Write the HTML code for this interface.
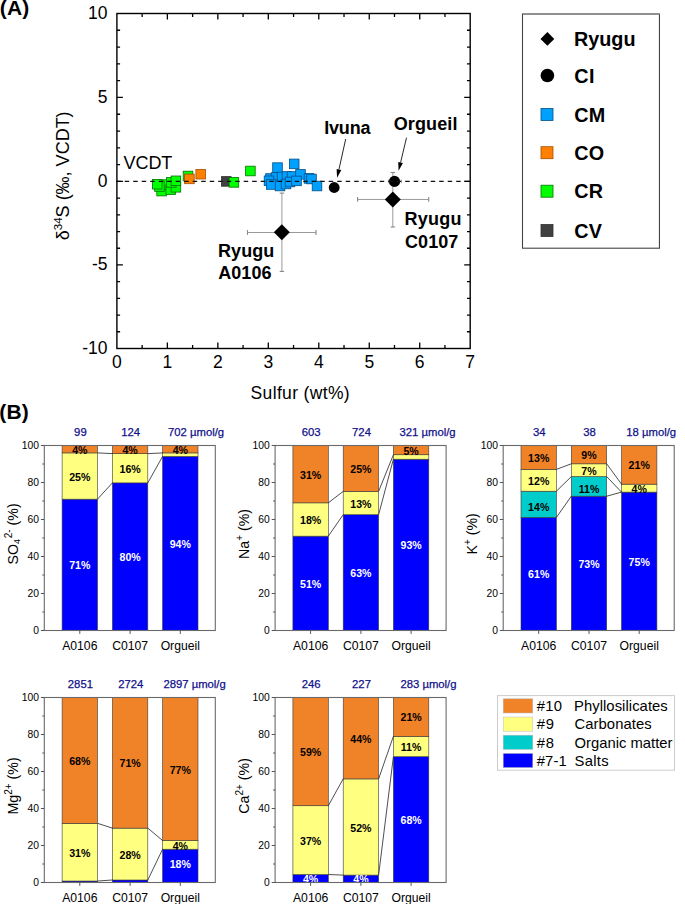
<!DOCTYPE html>
<html><head><meta charset="utf-8"><title>Figure</title>
<style>
html,body{margin:0;padding:0;background:#fff;}
body{width:685px;height:904px;overflow:hidden;}
svg{display:block;font-family:"Liberation Sans", sans-serif;}
</style></head>
<body>
<svg width="685" height="904" viewBox="0 0 685 904">
<rect width="685" height="904" fill="#fff"/>
<text x="-0.15" y="15.4" font-size="21" font-weight="bold" letter-spacing="0.12">(A)</text>
<g stroke="#9a9a9a" stroke-width="1" fill="none">
<line x1="247.5" y1="232.5" x2="316" y2="232.5"/>
<line x1="281.9" y1="193.1" x2="281.9" y2="271.4"/>
</g><g stroke="#888" stroke-width="1.1" fill="none">
<line x1="247.5" y1="230.1" x2="247.5" y2="234.9"/>
<line x1="316" y1="230.1" x2="316" y2="234.9"/>
<line x1="279.7" y1="193.1" x2="284.1" y2="193.1"/>
<line x1="279.7" y1="271.4" x2="284.1" y2="271.4"/>
</g>
<g stroke="#9a9a9a" stroke-width="1" fill="none">
<line x1="357.6" y1="199.45" x2="428.7" y2="199.45"/>
<line x1="392.8" y1="172.5" x2="392.8" y2="227"/>
</g><g stroke="#888" stroke-width="1.1" fill="none">
<line x1="357.6" y1="197.05" x2="357.6" y2="201.85"/>
<line x1="428.7" y1="197.05" x2="428.7" y2="201.85"/>
<line x1="390.6" y1="172.5" x2="395" y2="172.5"/>
<line x1="390.6" y1="227" x2="395" y2="227"/>
</g>
<rect x="221.5" y="176.6" width="9.6" height="9.6" fill="#404040" stroke="#303030" stroke-width="0.8"/>
<rect x="183.2" y="171.2" width="9.6" height="9.6" fill="#00ff00" stroke="#067006" stroke-width="0.8"/>
<rect x="156.8" y="186.3" width="9.6" height="9.6" fill="#00ff00" stroke="#067006" stroke-width="0.8"/>
<rect x="158.2" y="179.8" width="9.6" height="9.6" fill="#00ff00" stroke="#067006" stroke-width="0.8"/>
<rect x="154.6" y="181.7" width="9.6" height="9.6" fill="#00ff00" stroke="#067006" stroke-width="0.8"/>
<rect x="152.4" y="179.4" width="9.6" height="9.6" fill="#00ff00" stroke="#067006" stroke-width="0.8"/>
<rect x="165.9" y="184.9" width="9.6" height="9.6" fill="#00ff00" stroke="#067006" stroke-width="0.8"/>
<rect x="171.1" y="182.5" width="9.6" height="9.6" fill="#00ff00" stroke="#067006" stroke-width="0.8"/>
<rect x="166.5" y="177.6" width="9.6" height="9.6" fill="#00ff00" stroke="#067006" stroke-width="0.8"/>
<rect x="171.1" y="176" width="9.6" height="9.6" fill="#00ff00" stroke="#067006" stroke-width="0.8"/>
<rect x="229.1" y="177.6" width="9.6" height="9.6" fill="#00ff00" stroke="#067006" stroke-width="0.8"/>
<rect x="245.6" y="166.2" width="9.6" height="9.6" fill="#00ff00" stroke="#067006" stroke-width="0.8"/>
<rect x="184.6" y="174.1" width="9.6" height="9.6" fill="#ff8000" stroke="#a05000" stroke-width="0.8"/>
<rect x="195.9" y="169.4" width="9.6" height="9.6" fill="#ff8000" stroke="#a05000" stroke-width="0.8"/>
<rect x="272.7" y="162.8" width="9.6" height="9.6" fill="#00a0ff" stroke="#004f88" stroke-width="0.8"/>
<rect x="289.4" y="159.1" width="9.6" height="9.6" fill="#00a0ff" stroke="#004f88" stroke-width="0.8"/>
<rect x="265.7" y="173.7" width="9.6" height="9.6" fill="#00a0ff" stroke="#004f88" stroke-width="0.8"/>
<rect x="271.2" y="172.7" width="9.6" height="9.6" fill="#00a0ff" stroke="#004f88" stroke-width="0.8"/>
<rect x="277.2" y="172.2" width="9.6" height="9.6" fill="#00a0ff" stroke="#004f88" stroke-width="0.8"/>
<rect x="282.2" y="171.7" width="9.6" height="9.6" fill="#00a0ff" stroke="#004f88" stroke-width="0.8"/>
<rect x="287.2" y="171.7" width="9.6" height="9.6" fill="#00a0ff" stroke="#004f88" stroke-width="0.8"/>
<rect x="295.7" y="169.6" width="9.6" height="9.6" fill="#00a0ff" stroke="#004f88" stroke-width="0.8"/>
<rect x="304.2" y="173.6" width="9.6" height="9.6" fill="#00a0ff" stroke="#004f88" stroke-width="0.8"/>
<rect x="306.7" y="174.2" width="9.6" height="9.6" fill="#00a0ff" stroke="#004f88" stroke-width="0.8"/>
<rect x="264.2" y="176" width="9.6" height="9.6" fill="#00a0ff" stroke="#004f88" stroke-width="0.8"/>
<rect x="266.4" y="179.7" width="9.6" height="9.6" fill="#00a0ff" stroke="#004f88" stroke-width="0.8"/>
<rect x="275.2" y="181.2" width="9.6" height="9.6" fill="#00a0ff" stroke="#004f88" stroke-width="0.8"/>
<rect x="281.2" y="179.2" width="9.6" height="9.6" fill="#00a0ff" stroke="#004f88" stroke-width="0.8"/>
<rect x="285.2" y="177.2" width="9.6" height="9.6" fill="#00a0ff" stroke="#004f88" stroke-width="0.8"/>
<rect x="291.7" y="176.1" width="9.6" height="9.6" fill="#00a0ff" stroke="#004f88" stroke-width="0.8"/>
<rect x="312.2" y="181.2" width="9.6" height="9.6" fill="#00a0ff" stroke="#004f88" stroke-width="0.8"/>
<path d="M388.4 181.4H401.3M388.4 179.6V183.2M401.3 179.6V183.2" stroke="#9a9a9a" stroke-width="1" fill="none"/>
<circle cx="334.2" cy="187.5" r="5.4" fill="#000"/>
<circle cx="394.5" cy="181.4" r="5.6" fill="#000"/>
<path d="M281.8 224.3L289.8 232.3L281.8 240.3L273.8 232.3Z" fill="#000"/>
<path d="M392.8 191.5L400.8 199.5L392.8 207.5L384.8 199.5Z" fill="#000"/>
<line x1="116.2" y1="181.45" x2="470.2" y2="181.45" stroke="#111" stroke-width="1.2" stroke-dasharray="4.5 4.0"/>
<line x1="345.7" y1="139" x2="338.96" y2="169.4" stroke="#111" stroke-width="0.9"/>
<path d="M337.1 177.8L336.62 168.88L341.3 169.92Z" fill="#000"/>
<line x1="406.5" y1="137.7" x2="400.6" y2="162.43" stroke="#111" stroke-width="0.9"/>
<path d="M398.6 170.8L398.26 161.88L402.93 162.99Z" fill="#000"/>
<rect x="116.9" y="13.5" width="353.3" height="335" fill="none" stroke="#000" stroke-width="1.4"/>
<path d="M142.14 348.5v-3.4M142.14 13.5v3.4M167.37 348.5v-6M167.37 13.5v6M192.61 348.5v-3.4M192.61 13.5v3.4M217.84 348.5v-6M217.84 13.5v6M243.08 348.5v-3.4M243.08 13.5v3.4M268.31 348.5v-6M268.31 13.5v6M293.55 348.5v-3.4M293.55 13.5v3.4M318.79 348.5v-6M318.79 13.5v6M344.02 348.5v-3.4M344.02 13.5v3.4M369.26 348.5v-6M369.26 13.5v6M394.49 348.5v-3.4M394.49 13.5v3.4M419.73 348.5v-6M419.73 13.5v6M444.96 348.5v-3.4M444.96 13.5v3.4M116.9 331.75h3.2M470.2 331.75h-3.2M116.9 315.05h3.2M470.2 315.05h-3.2M116.9 298.35h3.2M470.2 298.35h-3.2M116.9 281.65h3.2M470.2 281.65h-3.2M116.9 264.95h6M470.2 264.95h-6M116.9 248.25h3.2M470.2 248.25h-3.2M116.9 231.55h3.2M470.2 231.55h-3.2M116.9 214.85h3.2M470.2 214.85h-3.2M116.9 198.15h3.2M470.2 198.15h-3.2M116.9 181.45h6M470.2 181.45h-6M116.9 164.65h3.2M470.2 164.65h-3.2M116.9 147.85h3.2M470.2 147.85h-3.2M116.9 131.05h3.2M470.2 131.05h-3.2M116.9 114.25h3.2M470.2 114.25h-3.2M116.9 97.45h6M470.2 97.45h-6M116.9 80.65h3.2M470.2 80.65h-3.2M116.9 63.85h3.2M470.2 63.85h-3.2M116.9 47.05h3.2M470.2 47.05h-3.2M116.9 30.25h3.2M470.2 30.25h-3.2" stroke="#000" stroke-width="1.3" fill="none"/>
<text x="107.5" y="18.85" font-size="17.5" text-anchor="end">10</text>
<text x="107.5" y="102.85" font-size="17.5" text-anchor="end">5</text>
<text x="107.5" y="186.85" font-size="17.5" text-anchor="end">0</text>
<text x="107.5" y="270.35" font-size="17.5" text-anchor="end">-5</text>
<text x="107.5" y="353.85" font-size="17.5" text-anchor="end">-10</text>
<text x="116.9" y="367.8" font-size="17.5" text-anchor="middle">0</text>
<text x="167.37" y="367.8" font-size="17.5" text-anchor="middle">1</text>
<text x="217.84" y="367.8" font-size="17.5" text-anchor="middle">2</text>
<text x="268.31" y="367.8" font-size="17.5" text-anchor="middle">3</text>
<text x="318.79" y="367.8" font-size="17.5" text-anchor="middle">4</text>
<text x="369.26" y="367.8" font-size="17.5" text-anchor="middle">5</text>
<text x="419.73" y="367.8" font-size="17.5" text-anchor="middle">6</text>
<text x="470.2" y="367.8" font-size="17.5" text-anchor="middle">7</text>
<text x="250.61" y="398.8" font-size="17.5" letter-spacing="0.34">Sulfur (wt%)</text>
<text transform="translate(69 175.8) rotate(-90)" font-size="18" text-anchor="middle">&#948;<tspan font-size="11.5" dy="-7">34</tspan><tspan dy="7">S (&#8240;, VCDT)</tspan></text>
<text x="123.62" y="168.9" font-size="18" letter-spacing="-0.1">VCDT</text>
<text x="324.2" y="133.6" font-size="18" font-weight="bold" letter-spacing="-0.18">Ivuna</text>
<text x="393.66" y="129.6" font-size="18" font-weight="bold" letter-spacing="0.13">Orgueil</text>
<text x="218.1" y="257.2" font-size="18" font-weight="bold" letter-spacing="0.02">Ryugu</text>
<text x="218.25" y="279" font-size="18" font-weight="bold" letter-spacing="0.04">A0106</text>
<text x="404.6" y="225.4" font-size="18" font-weight="bold" letter-spacing="0.2">Ryugu</text>
<text x="405.06" y="247.6" font-size="18" font-weight="bold" letter-spacing="0.07">C0107</text>
<rect x="522.5" y="14" width="136.95" height="234.2" fill="none" stroke="#444" stroke-width="1.1"/>
<line x1="523" y1="14" x2="659.4" y2="14" stroke="#909090" stroke-width="1.8"/>
<path d="M547.4 32L554.3 38.9L547.4 45.8L540.5 38.9Z" fill="#000"/>
<circle cx="547.4" cy="75.5" r="6.8" fill="#000"/>
<rect x="541" y="108.5" width="12" height="12" fill="#00a0ff" stroke="#004f88" stroke-width="0.8"/>
<rect x="541" y="146.7" width="12" height="12" fill="#ff8000" stroke="#a05000" stroke-width="0.8"/>
<rect x="541" y="185.2" width="12" height="12" fill="#00ff00" stroke="#067006" stroke-width="0.8"/>
<rect x="541" y="224.5" width="12" height="12" fill="#404040" stroke="#303030" stroke-width="0.8"/>
<text x="573.88" y="46.1" font-size="19.8" font-weight="bold" letter-spacing="0.03">Ryugu</text>
<text x="574.19" y="82.7" font-size="19.8" font-weight="bold" letter-spacing="0.44">CI</text>
<text x="574.19" y="121.7" font-size="19.8" font-weight="bold" letter-spacing="0.34">CM</text>
<text x="574.2" y="159.9" font-size="19.8" font-weight="bold" letter-spacing="0.3">CO</text>
<text x="574.2" y="198.4" font-size="19.8" font-weight="bold" letter-spacing="0.3">CR</text>
<text x="574.2" y="237.7" font-size="19.8" font-weight="bold" letter-spacing="0.3">CV</text>
<text x="-0.75" y="419" font-size="21" font-weight="bold" letter-spacing="0.22">(B)</text>
<g>
<rect x="62.1" y="499.15" width="35.4" height="131.35" fill="#0000ff" stroke="#3a3a3a" stroke-width="0.6"/>
<rect x="62.1" y="452.9" width="35.4" height="46.25" fill="#ffff80" stroke="#3a3a3a" stroke-width="0.6"/>
<rect x="62.1" y="445.5" width="35.4" height="7.4" fill="#f08228" stroke="#3a3a3a" stroke-width="0.6"/>
<rect x="112.4" y="482.87" width="35.4" height="147.63" fill="#0000ff" stroke="#3a3a3a" stroke-width="0.6"/>
<rect x="112.4" y="453.64" width="35.4" height="29.23" fill="#ffff80" stroke="#3a3a3a" stroke-width="0.6"/>
<rect x="112.4" y="445.5" width="35.4" height="8.14" fill="#f08228" stroke="#3a3a3a" stroke-width="0.6"/>
<rect x="162.6" y="456.41" width="35.4" height="174.09" fill="#0000ff" stroke="#3a3a3a" stroke-width="0.6"/>
<rect x="162.6" y="452.9" width="35.4" height="3.51" fill="#ffff80" stroke="#3a3a3a" stroke-width="0.6"/>
<rect x="162.6" y="445.5" width="35.4" height="7.4" fill="#f08228" stroke="#3a3a3a" stroke-width="0.6"/>
<line x1="97.5" y1="499.15" x2="112.4" y2="482.87" stroke="#222" stroke-width="0.8"/>
<line x1="97.5" y1="452.9" x2="112.4" y2="453.64" stroke="#222" stroke-width="0.8"/>
<line x1="147.8" y1="482.87" x2="162.6" y2="456.41" stroke="#222" stroke-width="0.8"/>
<line x1="147.8" y1="453.64" x2="162.6" y2="452.9" stroke="#222" stroke-width="0.8"/>
<text x="79.8" y="569.33" font-size="10.6" font-weight="bold" text-anchor="middle" fill="#fff">71%</text>
<text x="79.8" y="480.52" font-size="10.6" font-weight="bold" text-anchor="middle" fill="#000">25%</text>
<text x="79.8" y="453.7" font-size="10.6" font-weight="bold" text-anchor="middle" fill="#000">4%</text>
<text x="130.1" y="561.18" font-size="10.6" font-weight="bold" text-anchor="middle" fill="#fff">80%</text>
<text x="130.1" y="472.75" font-size="10.6" font-weight="bold" text-anchor="middle" fill="#000">16%</text>
<text x="130.1" y="454.07" font-size="10.6" font-weight="bold" text-anchor="middle" fill="#000">4%</text>
<text x="180.3" y="547.96" font-size="10.6" font-weight="bold" text-anchor="middle" fill="#fff">94%</text>
<text x="180.3" y="453.7" font-size="10.6" font-weight="bold" text-anchor="middle" fill="#000">4%</text>
<rect x="44.3" y="445.5" width="171" height="185" fill="none" stroke="#6a6a6a" stroke-width="1.1"/>
<path d="M44.3 630.5h-3.4M44.3 612h-2M44.3 593.5h-3.4M44.3 575h-2M44.3 556.5h-3.4M44.3 538h-2M44.3 519.5h-3.4M44.3 501h-2M44.3 482.5h-3.4M44.3 464h-2M44.3 445.5h-3.4M79.8 630.5v3.4M130.1 630.5v3.4M180.3 630.5v3.4" stroke="#555" stroke-width="1" fill="none"/>
<text x="39" y="634.2" font-size="10.3" text-anchor="end">0</text>
<text x="39" y="597.2" font-size="10.3" text-anchor="end">20</text>
<text x="39" y="560.2" font-size="10.3" text-anchor="end">40</text>
<text x="39" y="523.2" font-size="10.3" text-anchor="end">60</text>
<text x="39" y="486.2" font-size="10.3" text-anchor="end">80</text>
<text x="39" y="449.2" font-size="10.3" text-anchor="end">100</text>
<text x="79.8" y="649.8" font-size="12.2" text-anchor="middle">A0106</text>
<text x="130.1" y="649.8" font-size="12.2" text-anchor="middle">C0107</text>
<text x="180.3" y="649.8" font-size="12.2" text-anchor="middle">Orgueil</text>
<text x="80.4" y="435.5" font-size="11.3" text-anchor="middle" fill="#0f0f8a" stroke="#0f0f8a" stroke-width="0.25">99</text>
<text x="130.7" y="435.5" font-size="11.3" text-anchor="middle" fill="#0f0f8a" stroke="#0f0f8a" stroke-width="0.25">124</text>
<text x="168" y="435.5" font-size="11.3" fill="#0f0f8a" stroke="#0f0f8a" stroke-width="0.25">702 &#181;mol/g</text>
<text transform="translate(18 533.9) rotate(-90)" font-size="14.2" text-anchor="middle">SO<tspan font-size="9" dy="2.3">4</tspan><tspan font-size="10" dx="0.6" dy="-8.3">2-</tspan><tspan dy="6"> (%)</tspan></text>
</g>
<g>
<rect x="292.9" y="536.15" width="35.4" height="94.35" fill="#0000ff" stroke="#3a3a3a" stroke-width="0.6"/>
<rect x="292.9" y="502.85" width="35.4" height="33.3" fill="#ffff80" stroke="#3a3a3a" stroke-width="0.6"/>
<rect x="292.9" y="445.5" width="35.4" height="57.35" fill="#f08228" stroke="#3a3a3a" stroke-width="0.6"/>
<rect x="343.2" y="514.69" width="35.4" height="115.81" fill="#0000ff" stroke="#3a3a3a" stroke-width="0.6"/>
<rect x="343.2" y="491.38" width="35.4" height="23.31" fill="#ffff80" stroke="#3a3a3a" stroke-width="0.6"/>
<rect x="343.2" y="445.5" width="35.4" height="45.88" fill="#f08228" stroke="#3a3a3a" stroke-width="0.6"/>
<rect x="393.4" y="459.19" width="35.4" height="171.31" fill="#0000ff" stroke="#3a3a3a" stroke-width="0.6"/>
<rect x="393.4" y="454.75" width="35.4" height="4.44" fill="#ffff80" stroke="#3a3a3a" stroke-width="0.6"/>
<rect x="393.4" y="445.5" width="35.4" height="9.25" fill="#f08228" stroke="#3a3a3a" stroke-width="0.6"/>
<line x1="328.3" y1="536.15" x2="343.2" y2="514.69" stroke="#222" stroke-width="0.8"/>
<line x1="328.3" y1="502.85" x2="343.2" y2="491.38" stroke="#222" stroke-width="0.8"/>
<line x1="378.6" y1="514.69" x2="393.4" y2="459.19" stroke="#222" stroke-width="0.8"/>
<line x1="378.6" y1="491.38" x2="393.4" y2="454.75" stroke="#222" stroke-width="0.8"/>
<text x="310.6" y="587.83" font-size="10.6" font-weight="bold" text-anchor="middle" fill="#fff">51%</text>
<text x="310.6" y="524" font-size="10.6" font-weight="bold" text-anchor="middle" fill="#000">18%</text>
<text x="310.6" y="478.67" font-size="10.6" font-weight="bold" text-anchor="middle" fill="#000">31%</text>
<text x="360.9" y="577.1" font-size="10.6" font-weight="bold" text-anchor="middle" fill="#fff">63%</text>
<text x="360.9" y="507.53" font-size="10.6" font-weight="bold" text-anchor="middle" fill="#000">13%</text>
<text x="360.9" y="472.94" font-size="10.6" font-weight="bold" text-anchor="middle" fill="#000">25%</text>
<text x="411.1" y="549.35" font-size="10.6" font-weight="bold" text-anchor="middle" fill="#fff">93%</text>
<text x="411.1" y="454.62" font-size="10.6" font-weight="bold" text-anchor="middle" fill="#000">5%</text>
<rect x="275.1" y="445.5" width="171" height="185" fill="none" stroke="#6a6a6a" stroke-width="1.1"/>
<path d="M275.1 630.5h-3.4M275.1 612h-2M275.1 593.5h-3.4M275.1 575h-2M275.1 556.5h-3.4M275.1 538h-2M275.1 519.5h-3.4M275.1 501h-2M275.1 482.5h-3.4M275.1 464h-2M275.1 445.5h-3.4M310.6 630.5v3.4M360.9 630.5v3.4M411.1 630.5v3.4" stroke="#555" stroke-width="1" fill="none"/>
<text x="269.8" y="634.2" font-size="10.3" text-anchor="end">0</text>
<text x="269.8" y="597.2" font-size="10.3" text-anchor="end">20</text>
<text x="269.8" y="560.2" font-size="10.3" text-anchor="end">40</text>
<text x="269.8" y="523.2" font-size="10.3" text-anchor="end">60</text>
<text x="269.8" y="486.2" font-size="10.3" text-anchor="end">80</text>
<text x="269.8" y="449.2" font-size="10.3" text-anchor="end">100</text>
<text x="310.6" y="649.8" font-size="12.2" text-anchor="middle">A0106</text>
<text x="360.9" y="649.8" font-size="12.2" text-anchor="middle">C0107</text>
<text x="411.1" y="649.8" font-size="12.2" text-anchor="middle">Orgueil</text>
<text x="311.2" y="435.5" font-size="11.3" text-anchor="middle" fill="#0f0f8a" stroke="#0f0f8a" stroke-width="0.25">603</text>
<text x="361.5" y="435.5" font-size="11.3" text-anchor="middle" fill="#0f0f8a" stroke="#0f0f8a" stroke-width="0.25">724</text>
<text x="399.5" y="435.5" font-size="11.3" fill="#0f0f8a" stroke="#0f0f8a" stroke-width="0.25">321 &#181;mol/g</text>
<text transform="translate(248.8 533.9) rotate(-90)" font-size="14.2" text-anchor="middle">Na<tspan font-size="10" dy="-5.8">+</tspan><tspan dy="5.8"> (%)</tspan></text>
</g>
<g>
<rect x="521" y="517.47" width="35.4" height="113.03" fill="#0000ff" stroke="#3a3a3a" stroke-width="0.6"/>
<rect x="521" y="491.19" width="35.4" height="26.27" fill="#00cccc" stroke="#3a3a3a" stroke-width="0.6"/>
<rect x="521" y="469.37" width="35.4" height="21.83" fill="#ffff80" stroke="#3a3a3a" stroke-width="0.6"/>
<rect x="521" y="445.5" width="35.4" height="23.87" fill="#f08228" stroke="#3a3a3a" stroke-width="0.6"/>
<rect x="571.3" y="496.19" width="35.4" height="134.31" fill="#0000ff" stroke="#3a3a3a" stroke-width="0.6"/>
<rect x="571.3" y="476.58" width="35.4" height="19.61" fill="#00cccc" stroke="#3a3a3a" stroke-width="0.6"/>
<rect x="571.3" y="463.81" width="35.4" height="12.77" fill="#ffff80" stroke="#3a3a3a" stroke-width="0.6"/>
<rect x="571.3" y="445.5" width="35.4" height="18.31" fill="#f08228" stroke="#3a3a3a" stroke-width="0.6"/>
<rect x="621.5" y="492.12" width="35.4" height="138.38" fill="#0000ff" stroke="#3a3a3a" stroke-width="0.6"/>
<rect x="621.5" y="484.16" width="35.4" height="7.96" fill="#ffff80" stroke="#3a3a3a" stroke-width="0.6"/>
<rect x="621.5" y="445.5" width="35.4" height="38.66" fill="#f08228" stroke="#3a3a3a" stroke-width="0.6"/>
<line x1="556.4" y1="517.47" x2="571.3" y2="496.19" stroke="#222" stroke-width="0.8"/>
<line x1="556.4" y1="491.19" x2="571.3" y2="476.58" stroke="#222" stroke-width="0.8"/>
<line x1="556.4" y1="469.37" x2="571.3" y2="463.81" stroke="#222" stroke-width="0.8"/>
<line x1="606.7" y1="496.19" x2="621.5" y2="492.12" stroke="#222" stroke-width="0.8"/>
<line x1="606.7" y1="476.58" x2="621.5" y2="492.12" stroke="#222" stroke-width="0.8"/>
<line x1="606.7" y1="463.81" x2="621.5" y2="484.16" stroke="#222" stroke-width="0.8"/>
<text x="538.7" y="578.48" font-size="10.6" font-weight="bold" text-anchor="middle" fill="#fff">61%</text>
<text x="538.7" y="511.33" font-size="10.6" font-weight="bold" text-anchor="middle" fill="#000">14%</text>
<text x="538.7" y="484.78" font-size="10.6" font-weight="bold" text-anchor="middle" fill="#000">12%</text>
<text x="538.7" y="461.93" font-size="10.6" font-weight="bold" text-anchor="middle" fill="#000">13%</text>
<text x="589" y="567.85" font-size="10.6" font-weight="bold" text-anchor="middle" fill="#fff">73%</text>
<text x="589" y="493.38" font-size="10.6" font-weight="bold" text-anchor="middle" fill="#000">11%</text>
<text x="589" y="474.7" font-size="10.6" font-weight="bold" text-anchor="middle" fill="#000">7%</text>
<text x="589" y="459.16" font-size="10.6" font-weight="bold" text-anchor="middle" fill="#000">9%</text>
<text x="639.2" y="565.81" font-size="10.6" font-weight="bold" text-anchor="middle" fill="#fff">75%</text>
<text x="639.2" y="492.64" font-size="10.6" font-weight="bold" text-anchor="middle" fill="#000">4%</text>
<text x="639.2" y="469.33" font-size="10.6" font-weight="bold" text-anchor="middle" fill="#000">21%</text>
<rect x="503.2" y="445.5" width="171" height="185" fill="none" stroke="#6a6a6a" stroke-width="1.1"/>
<path d="M503.2 630.5h-3.4M503.2 612h-2M503.2 593.5h-3.4M503.2 575h-2M503.2 556.5h-3.4M503.2 538h-2M503.2 519.5h-3.4M503.2 501h-2M503.2 482.5h-3.4M503.2 464h-2M503.2 445.5h-3.4M538.7 630.5v3.4M589 630.5v3.4M639.2 630.5v3.4" stroke="#555" stroke-width="1" fill="none"/>
<text x="497.9" y="634.2" font-size="10.3" text-anchor="end">0</text>
<text x="497.9" y="597.2" font-size="10.3" text-anchor="end">20</text>
<text x="497.9" y="560.2" font-size="10.3" text-anchor="end">40</text>
<text x="497.9" y="523.2" font-size="10.3" text-anchor="end">60</text>
<text x="497.9" y="486.2" font-size="10.3" text-anchor="end">80</text>
<text x="497.9" y="449.2" font-size="10.3" text-anchor="end">100</text>
<text x="538.7" y="649.8" font-size="12.2" text-anchor="middle">A0106</text>
<text x="589" y="649.8" font-size="12.2" text-anchor="middle">C0107</text>
<text x="639.2" y="649.8" font-size="12.2" text-anchor="middle">Orgueil</text>
<text x="539.3" y="435.5" font-size="11.3" text-anchor="middle" fill="#0f0f8a" stroke="#0f0f8a" stroke-width="0.25">34</text>
<text x="589.6" y="435.5" font-size="11.3" text-anchor="middle" fill="#0f0f8a" stroke="#0f0f8a" stroke-width="0.25">38</text>
<text x="626.3" y="435.5" font-size="11.3" fill="#0f0f8a" stroke="#0f0f8a" stroke-width="0.25">18 &#181;mol/g</text>
<text transform="translate(476.9 533.9) rotate(-90)" font-size="14.2" text-anchor="middle">K<tspan font-size="10" dy="-5.8">+</tspan><tspan dy="5.8"> (%)</tspan></text>
</g>
<g>
<rect x="62.1" y="881.02" width="35.4" height="1.48" fill="#0000ff" stroke="#3a3a3a" stroke-width="0.6"/>
<rect x="62.1" y="823.3" width="35.4" height="57.72" fill="#ffff80" stroke="#3a3a3a" stroke-width="0.6"/>
<rect x="62.1" y="697.5" width="35.4" height="125.8" fill="#f08228" stroke="#3a3a3a" stroke-width="0.6"/>
<rect x="112.4" y="880" width="35.4" height="2.5" fill="#0000ff" stroke="#3a3a3a" stroke-width="0.6"/>
<rect x="112.4" y="828.11" width="35.4" height="51.89" fill="#ffff80" stroke="#3a3a3a" stroke-width="0.6"/>
<rect x="112.4" y="697.5" width="35.4" height="130.61" fill="#f08228" stroke="#3a3a3a" stroke-width="0.6"/>
<rect x="162.6" y="849.2" width="35.4" height="33.3" fill="#0000ff" stroke="#3a3a3a" stroke-width="0.6"/>
<rect x="162.6" y="840.5" width="35.4" height="8.7" fill="#ffff80" stroke="#3a3a3a" stroke-width="0.6"/>
<rect x="162.6" y="697.5" width="35.4" height="143" fill="#f08228" stroke="#3a3a3a" stroke-width="0.6"/>
<line x1="97.5" y1="881.02" x2="112.4" y2="880" stroke="#222" stroke-width="0.8"/>
<line x1="97.5" y1="823.3" x2="112.4" y2="828.11" stroke="#222" stroke-width="0.8"/>
<line x1="147.8" y1="880" x2="162.6" y2="849.2" stroke="#222" stroke-width="0.8"/>
<line x1="147.8" y1="828.11" x2="162.6" y2="840.5" stroke="#222" stroke-width="0.8"/>
<text x="79.8" y="856.66" font-size="10.6" font-weight="bold" text-anchor="middle" fill="#000">31%</text>
<text x="79.8" y="764.9" font-size="10.6" font-weight="bold" text-anchor="middle" fill="#000">68%</text>
<text x="130.1" y="858.56" font-size="10.6" font-weight="bold" text-anchor="middle" fill="#000">28%</text>
<text x="130.1" y="767.3" font-size="10.6" font-weight="bold" text-anchor="middle" fill="#000">71%</text>
<text x="180.3" y="868.05" font-size="10.6" font-weight="bold" text-anchor="middle" fill="#fff">18%</text>
<text x="180.3" y="850.25" font-size="10.6" font-weight="bold" text-anchor="middle" fill="#000">4%</text>
<text x="180.3" y="773.5" font-size="10.6" font-weight="bold" text-anchor="middle" fill="#000">77%</text>
<rect x="44.3" y="697.5" width="171" height="185" fill="none" stroke="#6a6a6a" stroke-width="1.1"/>
<path d="M44.3 882.5h-3.4M44.3 864h-2M44.3 845.5h-3.4M44.3 827h-2M44.3 808.5h-3.4M44.3 790h-2M44.3 771.5h-3.4M44.3 753h-2M44.3 734.5h-3.4M44.3 716h-2M44.3 697.5h-3.4M79.8 882.5v3.4M130.1 882.5v3.4M180.3 882.5v3.4" stroke="#555" stroke-width="1" fill="none"/>
<text x="39" y="886.2" font-size="10.3" text-anchor="end">0</text>
<text x="39" y="849.2" font-size="10.3" text-anchor="end">20</text>
<text x="39" y="812.2" font-size="10.3" text-anchor="end">40</text>
<text x="39" y="775.2" font-size="10.3" text-anchor="end">60</text>
<text x="39" y="738.2" font-size="10.3" text-anchor="end">80</text>
<text x="39" y="701.2" font-size="10.3" text-anchor="end">100</text>
<text x="79.8" y="901.8" font-size="12.2" text-anchor="middle">A0106</text>
<text x="130.1" y="901.8" font-size="12.2" text-anchor="middle">C0107</text>
<text x="180.3" y="901.8" font-size="12.2" text-anchor="middle">Orgueil</text>
<text x="80.4" y="687.5" font-size="11.3" text-anchor="middle" fill="#0f0f8a" stroke="#0f0f8a" stroke-width="0.25">2851</text>
<text x="130.7" y="687.5" font-size="11.3" text-anchor="middle" fill="#0f0f8a" stroke="#0f0f8a" stroke-width="0.25">2724</text>
<text x="163.4" y="687.5" font-size="11.3" fill="#0f0f8a" stroke="#0f0f8a" stroke-width="0.25">2897 &#181;mol/g</text>
<text transform="translate(18 785.9) rotate(-90)" font-size="14.2" text-anchor="middle">Mg<tspan font-size="10" dy="-5.8">2+</tspan><tspan dy="5.8"> (%)</tspan></text>
</g>
<g>
<rect x="292.9" y="874.54" width="35.4" height="7.96" fill="#0000ff" stroke="#3a3a3a" stroke-width="0.6"/>
<rect x="292.9" y="805.73" width="35.4" height="68.82" fill="#ffff80" stroke="#3a3a3a" stroke-width="0.6"/>
<rect x="292.9" y="697.5" width="35.4" height="108.23" fill="#f08228" stroke="#3a3a3a" stroke-width="0.6"/>
<rect x="343.2" y="875.1" width="35.4" height="7.4" fill="#0000ff" stroke="#3a3a3a" stroke-width="0.6"/>
<rect x="343.2" y="778.9" width="35.4" height="96.2" fill="#ffff80" stroke="#3a3a3a" stroke-width="0.6"/>
<rect x="343.2" y="697.5" width="35.4" height="81.4" fill="#f08228" stroke="#3a3a3a" stroke-width="0.6"/>
<rect x="393.4" y="756.7" width="35.4" height="125.8" fill="#0000ff" stroke="#3a3a3a" stroke-width="0.6"/>
<rect x="393.4" y="736.35" width="35.4" height="20.35" fill="#ffff80" stroke="#3a3a3a" stroke-width="0.6"/>
<rect x="393.4" y="697.5" width="35.4" height="38.85" fill="#f08228" stroke="#3a3a3a" stroke-width="0.6"/>
<line x1="328.3" y1="874.54" x2="343.2" y2="875.1" stroke="#222" stroke-width="0.8"/>
<line x1="328.3" y1="805.73" x2="343.2" y2="778.9" stroke="#222" stroke-width="0.8"/>
<line x1="378.6" y1="875.1" x2="393.4" y2="756.7" stroke="#222" stroke-width="0.8"/>
<line x1="378.6" y1="778.9" x2="393.4" y2="736.35" stroke="#222" stroke-width="0.8"/>
<text x="310.6" y="883.02" font-size="10.6" font-weight="bold" text-anchor="middle" fill="#fff">4%</text>
<text x="310.6" y="844.63" font-size="10.6" font-weight="bold" text-anchor="middle" fill="#000">37%</text>
<text x="310.6" y="756.11" font-size="10.6" font-weight="bold" text-anchor="middle" fill="#000">59%</text>
<text x="360.9" y="883.3" font-size="10.6" font-weight="bold" text-anchor="middle" fill="#fff">4%</text>
<text x="360.9" y="831.5" font-size="10.6" font-weight="bold" text-anchor="middle" fill="#000">52%</text>
<text x="360.9" y="742.7" font-size="10.6" font-weight="bold" text-anchor="middle" fill="#000">44%</text>
<text x="411.1" y="824.1" font-size="10.6" font-weight="bold" text-anchor="middle" fill="#fff">68%</text>
<text x="411.1" y="751.02" font-size="10.6" font-weight="bold" text-anchor="middle" fill="#000">11%</text>
<text x="411.1" y="721.42" font-size="10.6" font-weight="bold" text-anchor="middle" fill="#000">21%</text>
<rect x="275.1" y="697.5" width="171" height="185" fill="none" stroke="#6a6a6a" stroke-width="1.1"/>
<path d="M275.1 882.5h-3.4M275.1 864h-2M275.1 845.5h-3.4M275.1 827h-2M275.1 808.5h-3.4M275.1 790h-2M275.1 771.5h-3.4M275.1 753h-2M275.1 734.5h-3.4M275.1 716h-2M275.1 697.5h-3.4M310.6 882.5v3.4M360.9 882.5v3.4M411.1 882.5v3.4" stroke="#555" stroke-width="1" fill="none"/>
<text x="269.8" y="886.2" font-size="10.3" text-anchor="end">0</text>
<text x="269.8" y="849.2" font-size="10.3" text-anchor="end">20</text>
<text x="269.8" y="812.2" font-size="10.3" text-anchor="end">40</text>
<text x="269.8" y="775.2" font-size="10.3" text-anchor="end">60</text>
<text x="269.8" y="738.2" font-size="10.3" text-anchor="end">80</text>
<text x="269.8" y="701.2" font-size="10.3" text-anchor="end">100</text>
<text x="310.6" y="901.8" font-size="12.2" text-anchor="middle">A0106</text>
<text x="360.9" y="901.8" font-size="12.2" text-anchor="middle">C0107</text>
<text x="411.1" y="901.8" font-size="12.2" text-anchor="middle">Orgueil</text>
<text x="311.2" y="687.5" font-size="11.3" text-anchor="middle" fill="#0f0f8a" stroke="#0f0f8a" stroke-width="0.25">246</text>
<text x="361.5" y="687.5" font-size="11.3" text-anchor="middle" fill="#0f0f8a" stroke="#0f0f8a" stroke-width="0.25">227</text>
<text x="400.4" y="687.5" font-size="11.3" fill="#0f0f8a" stroke="#0f0f8a" stroke-width="0.25">283 &#181;mol/g</text>
<text transform="translate(248.8 785.9) rotate(-90)" font-size="14.2" text-anchor="middle">Ca<tspan font-size="10" dy="-5.8">2+</tspan><tspan dy="5.8"> (%)</tspan></text>
</g>
<rect x="497.5" y="695.6" width="177" height="74.6" fill="#fff" stroke="#ccc" stroke-width="1"/>
<rect x="503.2" y="698.8" width="29.6" height="14.2" fill="#f08228" stroke="#bbb" stroke-width="0.5"/>
<text x="536.83" y="711.1" font-size="14.8" letter-spacing="0.22">#10</text>
<text x="573.99" y="711.1" font-size="14.8" letter-spacing="0.06">Phyllosilicates</text>
<rect x="503.2" y="717" width="29.6" height="14.2" fill="#ffff80" stroke="#bbb" stroke-width="0.5"/>
<text x="536.83" y="729.3" font-size="14.8" letter-spacing="0.7">#9</text>
<text x="574.45" y="729.3" font-size="14.8" letter-spacing="0.09">Carbonates</text>
<rect x="503.2" y="735.2" width="29.6" height="14.2" fill="#00cccc" stroke="#bbb" stroke-width="0.5"/>
<text x="536.83" y="747.5" font-size="14.8" letter-spacing="0.65">#8</text>
<text x="574.5" y="747.5" font-size="14.8" letter-spacing="0.01">Organic matter</text>
<rect x="503.2" y="753.4" width="29.6" height="14.2" fill="#0000ff" stroke="#bbb" stroke-width="0.5"/>
<text x="536.83" y="765.7" font-size="14.8" letter-spacing="0.06">#7-1</text>
<text x="574.53" y="765.7" font-size="14.8" letter-spacing="0.3">Salts</text>
</svg>
</body></html>
